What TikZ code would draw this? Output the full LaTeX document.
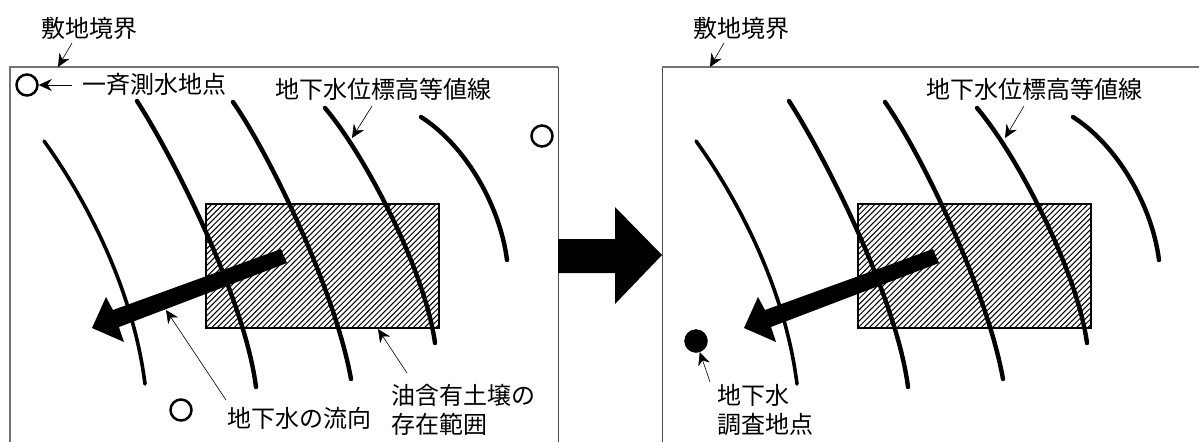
\documentclass[tikz,border=0pt]{standalone}
\usepackage{fontspec}
\setmainfont{Noto Sans CJK JP}
\usetikzlibrary{arrows.meta}
\tikzset{
  x=1pt,y=-1pt,
  framel/.style={draw=black!55,line width=1.5pt,line cap=butt},
  framer/.style={draw=black!70,line width=1pt,line cap=butt},
  contour/.style={draw=black,line width=4.4pt,line cap=round},
  contourb/.style={draw=black,line width=3.6pt,line cap=round},
  soil/.style={draw=black,line width=2.6pt,fill=white,minimum width=233pt,minimum height=124pt,inner sep=0pt,
    path picture={\foreach \d in {-270,-264.4,...,140} \draw[black,line width=1pt] (\d,64) -- (\d+128,-64);}},
  well/.style={circle,draw=black,line width=2.5pt,fill=white,minimum size=21pt,inner sep=0pt},
  wellf/.style={circle,draw=black,fill=black,minimum size=23pt,inner sep=0pt},
  lbl/.style={inner sep=0pt,anchor=west,text=black,font=\fontsize{24pt}{28pt}\selectfont,align=left},
  lead/.style={draw=black,line width=.6pt,-{Stealth[length=13pt,width=12pt]}},
  flowarrow/.style={fill=black,draw=none},
}
\newcommand{\panelcurves}{%
  \draw[contourb] (44,141) .. controls (78,188) and (132,280) .. (145,384);
  \draw[contour] (137,101) .. controls (175,160) and (245,300) .. (256,387);
  \draw[contour] (233,102) .. controls (270,155) and (335,290) .. (351,379);
  \draw[contour] (325,108) .. controls (365,155) and (425,270) .. (435,343);
  \draw[contour] (421,117) .. controls (465,145) and (500,205) .. (507,260);
}
\newcommand{\bigflow}{%
  \fill[flowarrow] (281,249) -- (287,263) -- (119,327) -- (124,342) -- (92,328) -- (106,297) -- (113,310) -- cycle;
}
\begin{document}
\begin{tikzpicture}
\useasboundingbox (0,0) rectangle (1199,442);
% frames
\coordinate (fl0) at (10,442); \coordinate (fl1) at (10,67); \coordinate (fl2) at (558,67); \coordinate (fl3) at (558,442);
\coordinate (fr0) at (662,442); \coordinate (fr1) at (662,67); \coordinate (fr2) at (1199,67);
\draw[framel] (fl0) -- (fl1) -- (fl2);
\draw[framer] (fl2) -- (fl3);
\draw[framer] (fr0) -- (fr1);
\draw[framel] (fr1) -- (fr2);
% soil
\node[soil] (soilL) at (322.5,266) {};
\begin{scope}[shift={(652,0)}]
\node[soil] (soilR) at (322.5,266) {};
\end{scope}
% contours and flow
\panelcurves
\bigflow
\begin{scope}[shift={(652,0)}]
\panelcurves
\bigflow
\end{scope}
% block arrow
\fill[black] (558,239) -- (615,239) -- (615,207) -- (662,255) -- (615,304) -- (615,273) -- (558,273) -- cycle;
% wells
\node[well] (w1) at (27,85) {};
\node[well] (w2) at (542,136) {};
\node[well] (w3) at (181,410) {};
\node[wellf] (w4) at (696,341) {};
% labels
\node[lbl] (t1) at (41,28) {敷地境界};
\node[lbl] (t2) at (693,28) {敷地境界};
\node[lbl] (t3) at (82,84) {一斉測水地点};
\node[lbl] (t4) at (275,89) {地下水位標高等値線};
\node[lbl] (t5) at (926,89) {地下水位標高等値線};
\node[lbl] (t6) at (227,418) {地下水の流向};
\node[lbl] (t7) at (391,395) {油含有土壌の};
\node[lbl] (t8) at (391,424) {存在範囲};
\node[lbl] (t9) at (717,395) {地下水};
\node[lbl] (t10) at (717,424) {調査地点};
% leaders
\coordinate (a1) at (72,43); \coordinate (b1) at (58,67);
\coordinate (a2) at (724,43); \coordinate (b2) at (710,67);
\coordinate (a3) at (72,85);
\coordinate (a4) at (372,106); \coordinate (b4) at (352,138);
\coordinate (a5) at (1024,106); \coordinate (b5) at (1005,138);
\coordinate (a6) at (226,400); \coordinate (b6) at (166,310);
\coordinate (a7) at (407,373); \coordinate (b7) at (378,329);
\coordinate (a8) at (710,382);
\draw[lead] (a1) -- (b1);
\draw[lead] (a2) -- (b2);
\draw[lead] (a3) -- (w1);
\draw[lead] (a4) -- (b4);
\draw[lead] (a5) -- (b5);
\draw[lead] (a6) -- (b6);
\draw[lead] (a7) -- (b7);
\draw[lead] (a8) -- (w4);
\end{tikzpicture}
\end{document}
